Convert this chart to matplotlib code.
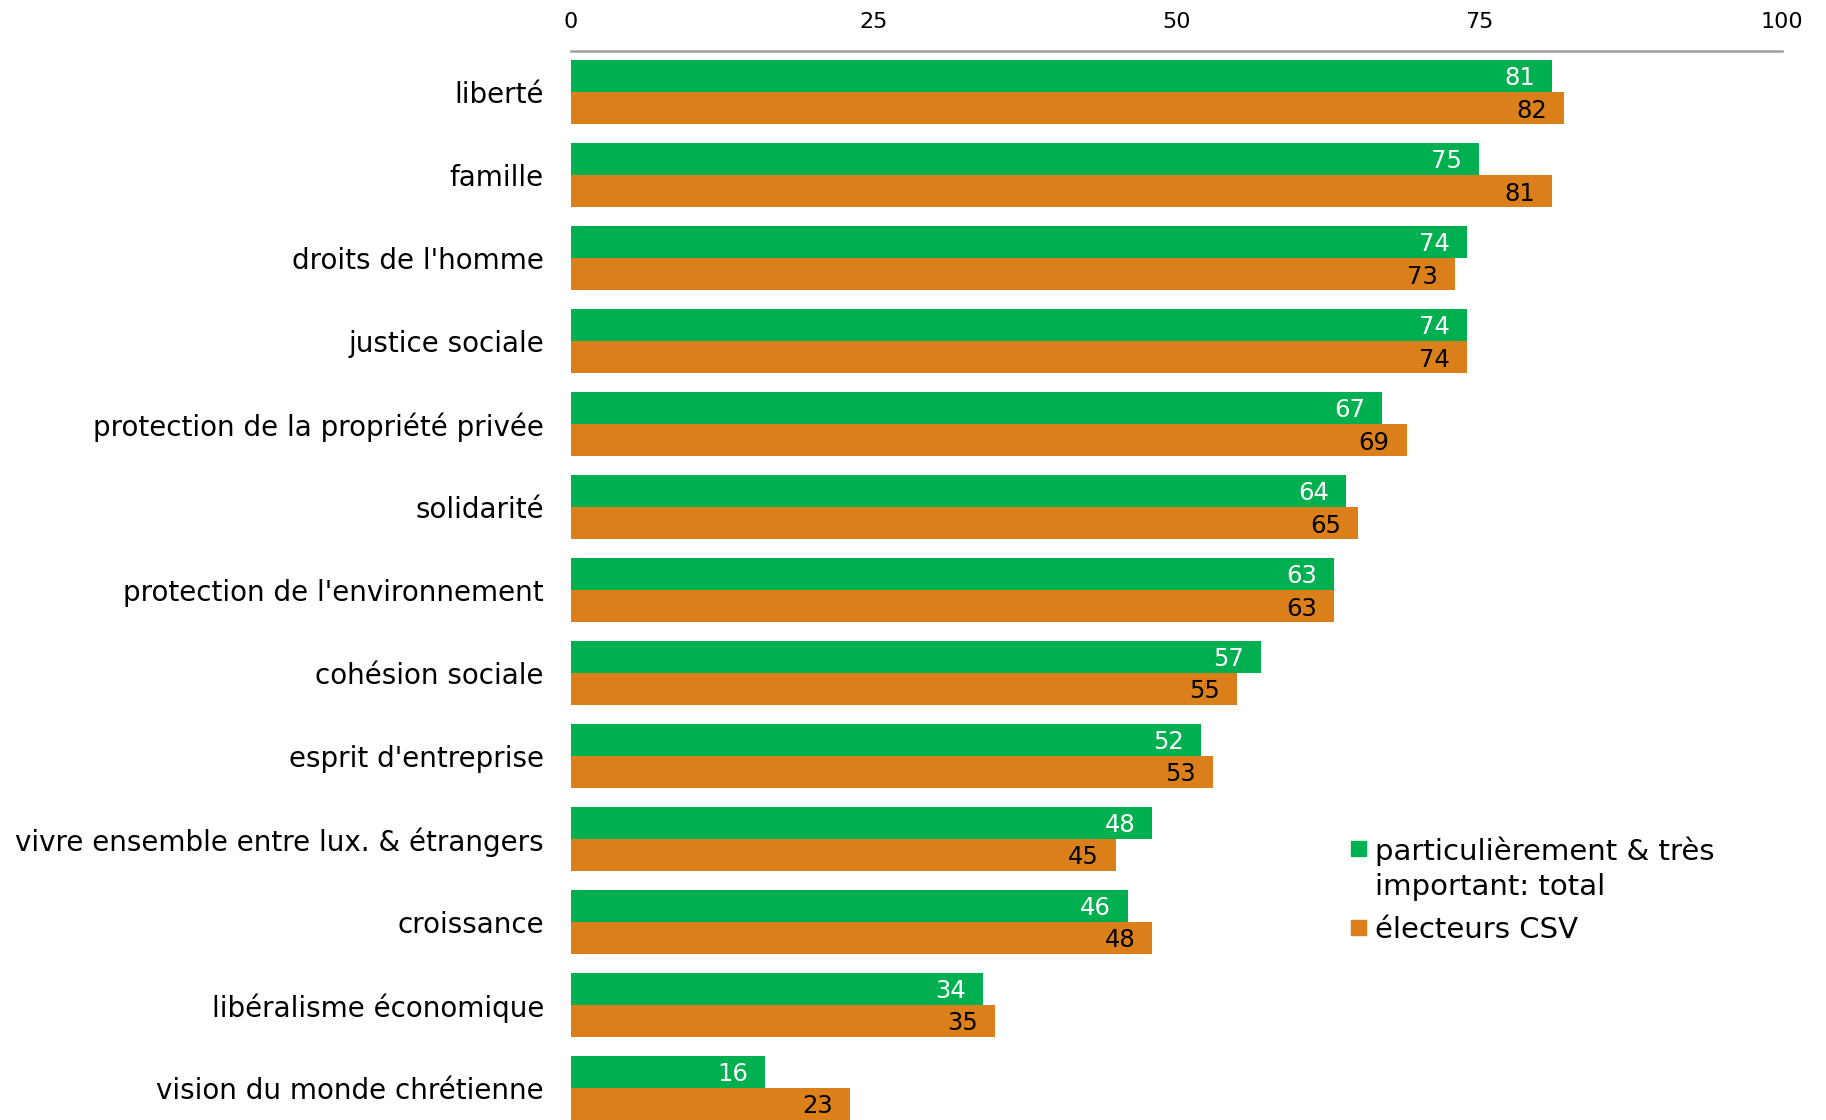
import matplotlib
matplotlib.use("Agg")
import matplotlib.pyplot as plt
from matplotlib.patches import Rectangle
import numpy as np

categories = ["liberté", "famille", "droits de l'homme", "justice sociale",
              "protection de la propriété privée", "solidarité",
              "protection de l'environnement", "cohésion sociale",
              "esprit d'entreprise", "vivre ensemble entre lux. & étrangers",
              "croissance", "libéralisme économique", "vision du monde chrétienne"]
total = [81, 75, 74, 74, 67, 64, 63, 57, 52, 48, 46, 34, 16]
csv = [82, 81, 73, 74, 69, 65, 63, 55, 53, 45, 48, 35, 23]
ticks = [0, 25, 50, 75, 100]
legend_lines = [["particulièrement & très", "important: total"], ["électeurs CSV"]]

GREEN = "#00B050"
ORANGE = "#DB7F1A"

plt.rcParams['font.family'] = ['DejaVu Sans']

W, H = 1826, 1120
fig = plt.figure(figsize=(W/100, H/100), dpi=100)
ax = fig.add_axes([571/W, 0, (1782-571)/W, 1 - 51/H])

h = 0.386
y = np.arange(len(categories))
b1 = ax.barh(y - h/2, total, height=h, color=GREEN)
b2 = ax.barh(y + h/2, csv, height=h, color=ORANGE)

for rect, v in zip(b1, total):
    ax.annotate(str(v), (rect.get_width(), rect.get_y() + rect.get_height()/2),
                xytext=(-17, 0), textcoords="offset pixels", ha="right",
                va="center_baseline", color="white", fontsize=17.5)
for rect, v in zip(b2, csv):
    ax.annotate(str(v), (rect.get_width(), rect.get_y() + rect.get_height()/2),
                xytext=(-17, 0), textcoords="offset pixels", ha="right",
                va="center_baseline", color="black", fontsize=17.5)

ax.set_xlim(0, 100)
ax.set_ylim(12.386, -0.494)
ax.set_yticks(y)
ax.set_yticklabels(categories, fontsize=20)
ax.set_xticks(ticks)
ax.set_xticklabels([str(t) for t in ticks], fontsize=16)
ax.xaxis.tick_top()
ax.tick_params(axis="x", length=0, pad=14)
ax.tick_params(axis="y", length=0, pad=19.5)
for s in ["right", "bottom", "left"]:
    ax.spines[s].set_visible(False)
ax.spines["top"].set_color("#A0A0A0")
ax.spines["top"].set_linewidth(1.8)

# legend (manual, handle aligned to first text line)
sq = 15
colors = [GREEN, ORANGE]
line_y = [[848, 884], [927]]
for col, lines, ys in zip(colors, legend_lines, line_y):
    fig.patches.append(Rectangle((1351/W, 1 - (ys[0] + sq/2)/H), sq/W, sq/H,
                                 transform=fig.transFigure, color=col))
    for txt, yy in zip(lines, ys):
        fig.text(1375/W, 1 - yy/H, txt, fontsize=21, va="center_baseline", ha="left")

fig.savefig("out.png", dpi=100)
